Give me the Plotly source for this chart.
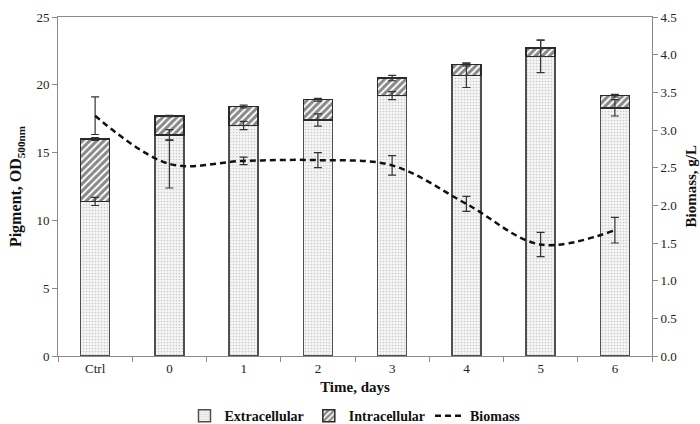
import plotly.graph_objects as go

# Sampling points
categories = ["Ctrl", "0", "1", "2", "3", "4", "5", "6"]

# Pigment (OD 500 nm), stacked: extracellular + intracellular
extracellular = [11.4, 16.3, 17.0, 17.4, 19.2, 20.7, 22.1, 18.3]
intracellular = [4.6, 1.4, 1.4, 1.5, 1.3, 0.8, 0.6, 0.9]
extracellular_err = [0.3, 0.4, 0.3, 0.45, 0.3, 0.9, 1.2, 0.6]
total_err = [0.1, 0.05, 0.1, 0.1, 0.2, 0.1, 0.6, 0.1]

# Biomass (g/L)
biomass = [3.19, 2.55, 2.59, 2.60, 2.53, 2.02, 1.48, 1.67]
biomass_err = [0.25, 0.32, 0.05, 0.10, 0.13, 0.10, 0.16, 0.17]

totals = [e + i for e, i in zip(extracellular, intracellular)]

FONT = "Liberation Serif"
AXIS_COL = "#8a8a8a"
ERR_COL = "#333333"
TITLE_FONT = dict(family=FONT, size=15, weight="bold", color="#111111")

fig = go.Figure()

fig.add_trace(go.Bar(
    x=categories, y=extracellular, name="Extracellular",
    width=0.39,
    marker=dict(
        color="#f2f2f2",
        line=dict(color="#505050", width=1.5),
        pattern=dict(shape=".", fgcolor="#a0a0a0", bgcolor="#f5f5f5",
                     size=3, solidity=0.25),
    ),
))
fig.add_trace(go.Bar(
    x=categories, y=intracellular, name="Intracellular",
    width=0.39,
    marker=dict(
        color="white",
        line=dict(color="#2a2a2a", width=1.5),
        pattern=dict(shape="/", fgcolor="#111111", bgcolor="white",
                     size=5, solidity=0.6),
    ),
))

# Error bars for both pigment fractions, drawn above the stacked bars
for yvals, errs in ((extracellular, extracellular_err), (totals, total_err)):
    fig.add_trace(go.Scatter(
        x=categories, y=yvals, mode="markers",
        marker=dict(size=0.1, color=ERR_COL),
        error_y=dict(type="data", array=errs, visible=True,
                     color=ERR_COL, thickness=1.2, width=4),
        showlegend=False, hoverinfo="skip",
    ))

fig.add_trace(go.Scatter(
    x=categories, y=biomass, name="Biomass", yaxis="y2",
    mode="lines",
    line=dict(color="#111111", width=2.5, dash="6px,4px",
              shape="spline", smoothing=1.0),
    error_y=dict(type="data", array=biomass_err, visible=True,
                 color=ERR_COL, thickness=1.2, width=4),
))

fig.update_layout(
    width=700, height=424,
    margin=dict(l=58, r=48, t=17, b=68, autoexpand=False),
    paper_bgcolor="white", plot_bgcolor="white",
    barmode="stack",
    font=dict(family=FONT, size=13, color="#222222"),
    showlegend=True,
    legend=dict(orientation="h", traceorder="normal",
                x=0.5, xanchor="center", y=-0.13, yanchor="top",
                font=dict(family=FONT, size=14, color="#111111", weight="bold"),
                itemwidth=30, tracegroupgap=0, bgcolor="rgba(0,0,0,0)"),
    xaxis=dict(
        type="category",
        showline=True, linecolor=AXIS_COL, linewidth=1, mirror=True,
        ticks="outside", tickson="boundaries", ticklen=5, tickcolor=AXIS_COL,
        showgrid=False,
        title=dict(text="Time, days", standoff=6, font=TITLE_FONT),
        tickfont=dict(family=FONT, size=13, color="#222222"),
    ),
    yaxis=dict(
        range=[0, 25], dtick=5,
        showline=True, linecolor=AXIS_COL, linewidth=1,
        ticks="outside", ticklen=5, tickcolor=AXIS_COL,
        showgrid=False, zeroline=False,
        title=dict(text="Pigment, OD<sub>500nm</sub>", standoff=10,
                   font=dict(family=FONT, size=16, weight="bold", color="#111111")),
        tickfont=dict(family=FONT, size=13, color="#222222"),
    ),
    yaxis2=dict(
        range=[0, 4.5], dtick=0.5, tickformat=".1f",
        overlaying="y", side="right",
        showline=True, linecolor=AXIS_COL, linewidth=1,
        ticks="outside", ticklen=5, tickcolor=AXIS_COL,
        showgrid=False, zeroline=False,
        tickfont=dict(family=FONT, size=13, color="#222222"),
    ),
    annotations=[dict(
        text="Biomass, g/L", textangle=-90,
        xref="paper", yref="paper", x=1.064, y=0.5,
        xanchor="center", yanchor="middle", showarrow=False,
        font=TITLE_FONT,
    )],
)

fig.write_html("out.html")
